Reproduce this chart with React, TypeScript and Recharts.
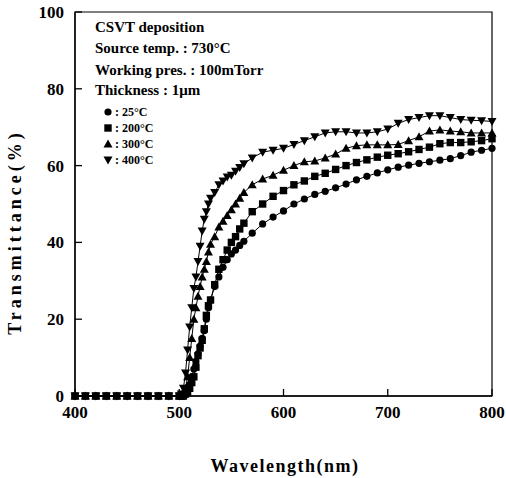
import { LineChart, Line, XAxis, YAxis, ReferenceArea, Label } from "recharts";

// measurement wavelengths (nm)
const wavelengths = [
  400, 410, 420, 430, 440, 450, 460, 470, 480, 490, 500,
  502, 504, 506, 508, 510, 512, 514, 516, 518, 520, 522, 524, 526, 528, 530,
  534, 538, 542, 546, 550, 554, 558, 562,
  570, 580, 590, 600, 610, 620, 630, 640, 650, 660, 670, 680, 690, 700,
  710, 720, 730, 740, 750, 760, 770, 780, 790, 800,
];

// transmittance (%) for each substrate temperature
const t25 = [
  0, 0, 0, 0, 0, 0, 0, 0, 0, 0, 0,
  0, 0, 0.5, 1.5, 3, 5, 7, 9, 11, 13, 15, 17, 20, 23, 25,
  28.5, 31, 33.5, 35.5, 37, 38, 39.2, 40.3,
  42.4, 44.8, 46.6, 48.2, 50, 51.3, 52.5, 53.3, 54.2, 55.2, 56.3, 57.2, 58.1, 58.9,
  59.6, 60.1, 60.6, 61, 61.4, 61.8, 62.6, 63.5, 64, 64.5,
];
const t200 = [
  0, 0, 0, 0, 0, 0, 0, 0, 0, 0, 0,
  0, 0, 0.5, 1, 2, 3.5, 5, 7.5, 10.5, 12.5, 14.5, 17.5, 21, 23.5, 25,
  29, 33, 35.5, 38, 40, 41.5, 43.5, 45,
  48, 50, 52, 53.5, 55, 56, 57.2, 58, 59, 60, 60.8, 61.5, 62.2, 62.7,
  63.1, 63.6, 64.2, 64.8, 65.7, 66, 66, 66.2, 66.5, 67,
];
const t300 = [
  0, 0, 0, 0, 0, 0, 0, 0, 0, 0, 0,
  0, 0.5, 2, 5, 10, 15, 20, 23, 26, 28.5, 31, 33, 35, 37.5, 39.5,
  41.5, 44, 45.5, 47, 48.5, 50, 51.5, 53,
  55, 56.5, 57.5, 58.8, 60, 61, 61.2, 62, 63, 64.5, 65.2, 65.4, 65.4, 65.4,
  65.5, 66.5, 67.5, 69, 69.3, 69, 68.8, 68.5, 68.5, 68.5,
];
const t400 = [
  0, 0, 0, 0, 0, 0, 0, 0, 0, 0, 0,
  0.5, 2, 6, 12, 18, 23, 28, 31, 35, 39, 43, 46, 48, 50, 51.5,
  53, 55, 56, 57, 57.5, 58.5, 59.5, 60.5,
  62, 63.5, 64, 64.5, 65.5, 66.5, 67.5, 68.5, 68.8, 68.8, 68.5, 68.5, 68.8, 69.5,
  71, 72, 72.5, 73, 73, 72.5, 72, 71.8, 71.7, 71.5,
];

const xTicks = [400, 500, 600, 700, 800];
const yTicks = [0, 20, 40, 60, 80, 100];

const rows = wavelengths.map((w, i) => ({
  w,
  t25: t25[i],
  t200: t200[i],
  t300: t300[i],
  t400: t400[i],
}));

const FONT = "'Liberation Serif', 'Times New Roman', serif";

type Shape = "circle" | "square" | "up" | "down";

function marker(shape: Shape, cx: number, cy: number, key?: string | number) {
  const s = 4;
  if (shape === "circle") return <circle key={key} cx={cx} cy={cy} r={3.6} fill="#000" />;
  if (shape === "square")
    return <rect key={key} x={cx - s + 0.3} y={cy - s + 0.3} width={2 * s - 0.6} height={2 * s - 0.6} fill="#000" />;
  if (shape === "up")
    return <polygon key={key} points={`${cx},${cy - s - 0.5} ${cx + s + 0.5},${cy + s - 0.5} ${cx - s - 0.5},${cy + s - 0.5}`} fill="#000" />;
  return <polygon key={key} points={`${cx},${cy + s + 0.5} ${cx + s + 0.5},${cy - s + 0.5} ${cx - s - 0.5},${cy - s + 0.5}`} fill="#000" />;
}

const dotFor = (shape: Shape) => (props: any) => marker(shape, props.cx, props.cy, props.key ?? props.index);

const XTick = (props: any) => {
  const { x, y, payload } = props;
  return (
    <g>
      <line x1={x} x2={x} y1={y} y2={y - 7} stroke="#000" strokeWidth={1.3} />
      <text x={x} y={y + 22} textAnchor="middle" fontFamily={FONT} fontWeight="bold" fontSize={17} fill="#000">
        {payload.value}
      </text>
    </g>
  );
};

const YTick = (props: any) => {
  const { x, y, payload } = props;
  return (
    <g>
      <line x1={x} x2={x + 7} y1={y} y2={y} stroke="#000" strokeWidth={1.3} />
      <text x={x - 11} y={y + 6} textAnchor="end" fontFamily={FONT} fontWeight="bold" fontSize={17} fill="#000">
        {payload.value}
      </text>
    </g>
  );
};

const legendItems: { shape: Shape; label: string }[] = [
  { shape: "circle", label: ": 25°C" },
  { shape: "square", label: ": 200°C" },
  { shape: "up", label: ": 300°C" },
  { shape: "down", label: ": 400°C" },
];

export default function App() {
  return (
    <div style={{ position: "relative", width: 506, height: 478, background: "#fff" }}>
      <style>{"body{margin:0}"}</style>
      <LineChart width={506} height={478} data={rows} margin={{ top: 12, right: 14, bottom: 0, left: 0 }}>
        <XAxis
          dataKey="w"
          type="number"
          domain={[400, 800]}
          ticks={xTicks}
          height={82}
          tickSize={0}
          tickMargin={0}
          tick={<XTick />}
          axisLine={{ stroke: "#000", strokeWidth: 1.3 }}
          tickLine={false}
        >
          <Label
            content={() => (
              <text x={285} y={472} textAnchor="middle" fontFamily={FONT} fontWeight="bold" fontSize={18} letterSpacing={1.5} fill="#000">
                Wavelength(nm)
              </text>
            )}
          />
        </XAxis>
        <YAxis
          type="number"
          domain={[0, 100]}
          ticks={yTicks}
          width={75}
          tickSize={0}
          tickMargin={0}
          tick={<YTick />}
          axisLine={{ stroke: "#000", strokeWidth: 1.3 }}
          tickLine={false}
        >
          <Label
            content={() => (
              <text
                x={21}
                y={232}
                transform="rotate(-90 21 232)"
                textAnchor="middle"
                fontFamily={FONT}
                fontWeight="bold"
                fontSize={18}
                letterSpacing={4}
                fill="#000"
              >
                Transmittance(%)
              </text>
            )}
          />
        </YAxis>
        <ReferenceArea x1={400} x2={800} y1={0} y2={100} fill="none" stroke="#000" strokeWidth={1.2} />
        <Line dataKey="t25" stroke="#000" strokeWidth={1} dot={dotFor("circle")} isAnimationActive={false} />
        <Line dataKey="t200" stroke="#000" strokeWidth={1} dot={dotFor("square")} isAnimationActive={false} />
        <Line dataKey="t300" stroke="#000" strokeWidth={1} dot={dotFor("up")} isAnimationActive={false} />
        <Line dataKey="t400" stroke="#000" strokeWidth={1} dot={dotFor("down")} isAnimationActive={false} />
      </LineChart>
      <svg width={506} height={478} style={{ position: "absolute", left: 0, top: 0, pointerEvents: "none" }}>
        <g fontFamily={FONT} fontWeight="bold" fill="#000">
          <text x={95} y={32} fontSize={15}>CSVT deposition</text>
          <text x={95} y={53} fontSize={15}>Source temp. : 730°C</text>
          <text x={95} y={75} fontSize={15}>Working pres. : 100mTorr</text>
          <text x={95} y={95} fontSize={15}>Thickness : 1μm</text>
          {legendItems.map((it, i) => (
            <g key={it.label}>
              {marker(it.shape, 108, 112 + i * 16)}
              <text x={115} y={116 + i * 16} fontSize={12}>{it.label}</text>
            </g>
          ))}
        </g>
      </svg>
    </div>
  );
}
